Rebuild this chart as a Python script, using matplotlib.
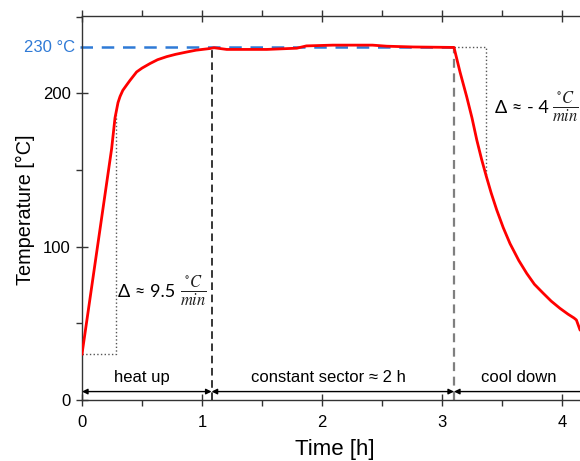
import matplotlib
matplotlib.use("Agg")
import matplotlib.pyplot as plt
from matplotlib.ticker import MultipleLocator

plt.rcParams['font.family'] = ['Liberation Sans', 'DejaVu Sans']
plt.rcParams['mathtext.fontset'] = 'stix'

# temperature profile
time_h = [0, 0.247, 0.275, 0.29, 0.30, 0.317, 0.34, 0.372, 0.40, 0.455, 0.50, 0.567,
          0.63, 0.706, 0.78, 0.872, 0.95, 1.067, 1.10,
          1.206, 1.54, 1.79, 1.87, 2.09, 2.42, 2.54, 2.76, 3.10,
          3.15, 3.206, 3.25, 3.29, 3.33, 3.37, 3.41, 3.456, 3.51, 3.567, 3.64, 3.706,
          3.77, 3.844, 3.91, 3.983, 4.05, 4.10, 4.12, 4.15, 4.25]
temp_c = [30, 164, 184, 190, 194, 198, 202, 205.5, 208.5, 214, 216.5, 219.5,
          222, 224, 225.5, 227, 228.2, 229.3, 229.8,
          228.7, 228.7, 229.5, 231, 231.5, 231.5, 230.8, 230.3, 230,
          214, 197.8, 184, 169.6, 157, 145.7, 135, 124, 112.5, 102, 91, 82.6,
          75.5, 69.6, 64.5, 59.8, 56, 53.5, 52.2, 45.7, 40]

setpoint = 230
phase_bounds = [0, 1.08, 3.10, 4.5]
phase_labels = ["heat up", "constant sector \u2248 2 h", "cool down"]
phase_label_x = [0.5, 2.05, 3.64]
heat_box = [0.283, 30, 186]     # x, y-bottom, y-top
cool_box = [3.37, 145.7, 230]

fig = plt.figure(figsize=(5.8, 4.61), dpi=100)
ax = fig.add_axes([82/580, 61/461, 540/580, 384.3/461])
ax.set_xlim(0, 4.5)
ax.set_ylim(0, 250.7)

# setpoint line and label
ax.plot([-0.02, phase_bounds[2]], [setpoint, setpoint], color='#2f7ad6', lw=1.8,
        dashes=(5, 3.5), zorder=2, clip_on=False)
ax.text(-0.06, setpoint, "230 \u00b0C", color='#2f7ad6', fontsize=12,
        ha='right', va='center')

# phase separators
ax.plot([phase_bounds[1]]*2, [0, setpoint], color='black', lw=1.1, dashes=(5, 3))
ax.plot([phase_bounds[2]]*2, [0, setpoint], color='#7f7f7f', lw=1.6, dashes=(4, 2.5))

# slope boxes
ax.plot([0, heat_box[0], heat_box[0]], [heat_box[1], heat_box[1], heat_box[2]],
        color='#555555', lw=1, ls=':')
ax.plot([phase_bounds[2], cool_box[0], cool_box[0]], [cool_box[2], cool_box[2], cool_box[1]],
        color='#555555', lw=1, ls=':')

# measured temperature
ax.plot(time_h, temp_c, color='red', lw=2, zorder=3, solid_joinstyle='round')

# slope annotations
ax.text(0.3, 70.6, "\u0394 \u2248 9.5", fontsize=13, family=['Lato', 'DejaVu Sans'],
        ha='left', va='center')
ax.text(0.93, 70.6, r"$\frac{{}^{\circ}C}{min}$", fontsize=17, color='#222222',
        ha='center', va='center')
ax.text(3.44, 190.8, "\u0394 \u2248 - 4", fontsize=13, family=['Lato', 'DejaVu Sans'],
        ha='left', va='center')
ax.text(4.03, 191, r"$\frac{{}^{\circ}C}{min}$", fontsize=17, color='#222222',
        ha='center', va='center')

# phase arrows and labels
for i in range(3):
    ax.annotate("", xy=(phase_bounds[i], 5.5), xytext=(phase_bounds[i+1], 5.5),
                arrowprops=dict(arrowstyle='<|-|>', color='black', lw=1,
                                mutation_scale=8, shrinkA=0, shrinkB=0))
    ax.text(phase_label_x[i], 15, phase_labels[i], fontsize=12, ha='center', va='center')

# axes styling
ax.spines['right'].set_visible(False)
for s in ['left', 'bottom', 'top']:
    ax.spines[s].set_color('#333333')
    ax.spines[s].set_linewidth(1)
ax.xaxis.set_major_locator(MultipleLocator(1))
ax.xaxis.set_minor_locator(MultipleLocator(0.5))
ax.yaxis.set_major_locator(MultipleLocator(100))
ax.yaxis.set_minor_locator(MultipleLocator(50))
ax.tick_params(which='major', direction='inout', length=9, width=1, color='#333333',
               labelsize=12, top=True)
ax.tick_params(which='minor', direction='out', length=4, width=1, color='#333333', top=True)
ax.tick_params(axis='x', pad=6)

ax.set_xlabel("Time [h]", fontsize=16)
ax.set_ylabel("Temperature [\u00b0C]", fontsize=14.3)
ax.xaxis.set_label_coords((335 - 82) / 540, (400 - 449) / 384.3)
ax.yaxis.set_label_coords((25 - 82) / 540, (400 - 210) / 384.3)
ax.xaxis.label.set_va('center')
ax.yaxis.label.set_va('center')

fig.savefig("out.png", dpi=100)
